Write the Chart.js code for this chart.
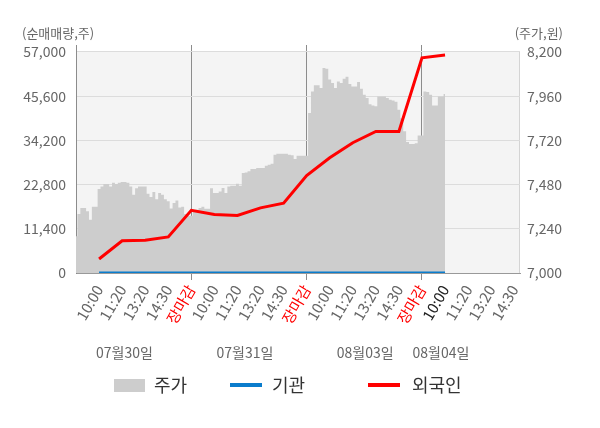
<!DOCTYPE html>
<html>
<head>
<meta charset="utf-8">
<script src="https://cdn.jsdelivr.net/npm/chart.js@4/dist/chart.umd.min.js"></script>
<style>
  html, body { margin: 0; padding: 0; background: #fff; }
</style>
</head>
<body>
<canvas id="chart" width="600" height="428"></canvas>
<script>
const FONT = "'Noto Sans CJK KR', 'Noto Sans', sans-serif"

const slotLabels = ['10:00', '11:20', '13:20', '14:30', '장마감']
const dayLabels = ['07월30일', '07월31일', '08월03일', '08월04일']
const seriesNames = ['주가', '기관', '외국인']

const volTicks = [0, 11400, 22800, 34200, 45600, 57000]
const priceTicks = [7000, 7240, 7480, 7720, 7960, 8200]

// 주가, sampled 8 times per label slot, 07/30 open .. 08/04 10:00
const price = [
  7200, 7320, 7353, 7353, 7335, 7289, 7360, 7360, 7456, 7470,
  7483, 7483, 7470, 7490, 7483, 7490, 7494, 7494, 7490, 7470,
  7425, 7460, 7470, 7470, 7470, 7430, 7413, 7440, 7400, 7435,
  7425, 7400, 7390, 7350, 7380, 7394, 7355, 7360, 7320, 7311,
  7311, 7344, 7344, 7353, 7360, 7349, 7349, 7460, 7434, 7434,
  7443, 7461, 7435, 7470, 7474, 7474, 7485, 7474, 7543, 7546,
  7552, 7565, 7565, 7570, 7570, 7570, 7583, 7588, 7593, 7642,
  7648, 7648, 7648, 7648, 7642, 7640, 7619, 7637, 7637, 7637,
  7637, 7869, 7986, 8020, 8019, 8004, 8113, 8109, 8050, 8032,
  8004, 8040, 8032, 8055, 8065, 8026, 8013, 8013, 8037, 8000,
  7968, 7950, 7916, 7910, 7905, 7959, 7959, 7959, 7950, 7941,
  7936, 7930, 7887, 7840, 7770, 7711, 7700, 7700, 7705, 7746,
  7746, 7985, 7983, 7968, 7910, 7910, 7959, 7959, 7972
]

// cumulative net buying (주), one value per label slot from 07/30 10:00
const institution = [0, 0, 0, 0, 0, 0, 0, 0, 0, 0, 0, 0, 0, 0, 0, 0]
const foreign = [3600, 8300, 8450, 9300, 16150, 15100, 14850, 16800, 18000, 25150, 29700, 33600, 36500, 36500, 55500, 56200]

const STEP = 8
const X_MAX = 154
const slotTicks = []
for (let v = STEP; v <= X_MAX; v += STEP) slotTicks.push(v)

const labelFor = (v) => slotLabels[(v / STEP - 1) % slotLabels.length]
const bySlot = (values) => values.map((y, i) => ({ x: (i + 1) * STEP, y }))

const extras = {
  id: 'extras',
  beforeDraw (chart) {
    const { ctx, scales: { x, y } } = chart
    const top = y.getPixelForValue(volTicks[volTicks.length - 1])
    ctx.save()
    ctx.fillStyle = '#f4f4f4'
    ctx.fillRect(x.left, top, x.right - x.left, y.bottom - top)
    ctx.strokeStyle = '#d4d4d4'
    ctx.lineWidth = 1
    ctx.beginPath()
    ctx.moveTo(x.right - 0.5, top)
    ctx.lineTo(x.right - 0.5, y.bottom)
    ctx.stroke()
    ctx.restore()
  },
  afterDraw (chart) {
    const { ctx, scales: { x } } = chart
    ctx.save()
    ctx.font = '13px ' + FONT
    ctx.fillStyle = '#666'
    ctx.textBaseline = 'middle'
    ctx.textAlign = 'left'
    ctx.fillText('(순매매량,주)', 22, 33)
    ctx.textAlign = 'right'
    ctx.fillText('(주가,원)', 563, 33)

    // day captions under the time labels
    ctx.font = '14px ' + FONT
    ctx.textAlign = 'center'
    const dayAt = [16.8, 58.6, 100.3, 126.6]
    dayLabels.forEach((d, i) => ctx.fillText(d, x.getPixelForValue(dayAt[i]), 353))

    // legend
    const ly = 385
    ctx.font = '18px ' + FONT
    ctx.textAlign = 'left'
    ctx.fillStyle = '#cdcdcd'
    ctx.fillRect(114, ly - 6, 31, 13)
    ctx.fillStyle = '#333'
    ctx.fillText(seriesNames[0], 154, ly)
    ctx.lineWidth = 4
    ctx.strokeStyle = '#0a7ccc'
    ctx.beginPath(); ctx.moveTo(230, ly); ctx.lineTo(262, ly); ctx.stroke()
    ctx.fillText(seriesNames[1], 272, ly)
    ctx.strokeStyle = '#ff0000'
    ctx.beginPath(); ctx.moveTo(368, ly); ctx.lineTo(400, ly); ctx.stroke()
    ctx.fillText(seriesNames[2], 412, ly)
    ctx.restore()
  }
}

const config = {
  type: 'line',
  data: {
    datasets: [
      {
        label: seriesNames[2],
        data: bySlot(foreign),
        yAxisID: 'y',
        borderColor: '#ff0000',
        borderWidth: 3,
        pointRadius: 0,
        fill: false,
        order: 0
      },
      {
        label: seriesNames[1],
        data: bySlot(institution),
        yAxisID: 'y',
        borderColor: '#0a7ccc',
        borderWidth: 3,
        pointRadius: 0,
        fill: false,
        order: 1
      },
      {
        label: seriesNames[0],
        data: price.map((y, i) => ({ x: i, y })),
        yAxisID: 'y1',
        borderWidth: 0,
        borderColor: 'rgba(0,0,0,0)',
        backgroundColor: '#cdcdcd',
        pointRadius: 0,
        stepped: 'middle',
        fill: 'start',
        order: 2
      }
    ]
  },
  options: {
    responsive: false,
    animation: false,
    locale: 'en-US',
    layout: { padding: { top: 45, left: 0, right: 0, bottom: 0 } },
    scales: {
      x: {
        type: 'linear',
        min: 0,
        max: X_MAX,
        z: 1,
        afterBuildTicks: (axis) => { axis.ticks = slotTicks.map((value) => ({ value })) },
        afterFit: (axis) => { axis.height = 155 },
        border: { color: '#999' },
        grid: {
          color: (c) => (c.tick && c.tick.value % (STEP * 5) === 0) ? '#8c8c8c' : 'rgba(0,0,0,0)',
          tickLength: 7
        },
        ticks: {
          autoSkip: false,
          minRotation: 60,
          maxRotation: 60,
          padding: 2,
          font: { family: FONT, size: 15 },
          color: (c) => {
            const v = c.tick.value
            if (labelFor(v) === '장마감') return '#ff0000'
            if (v === 128) return '#222'
            return '#666'
          },
          callback: (v) => labelFor(v)
        }
      },
      y: {
        position: 'left',
        min: 0,
        max: 58805,
        z: 1,
        afterBuildTicks: (axis) => { axis.ticks = volTicks.map((value) => ({ value })) },
        afterFit: (axis) => { axis.width = 76 },
        border: { color: '#8c8c8c' },
        grid: { color: '#dcdcdc', tickLength: 0 },
        ticks: {
          padding: 10,
          font: { family: FONT, size: 14 },
          color: '#666'
        }
      },
      y1: {
        position: 'right',
        min: 7000,
        max: 8238,
        afterBuildTicks: (axis) => { axis.ticks = priceTicks.map((value) => ({ value })) },
        afterFit: (axis) => { axis.width = 80 },
        border: { display: false },
        grid: { display: false, drawTicks: false },
        ticks: {
          padding: 7,
          font: { family: FONT, size: 14 },
          color: '#666'
        }
      }
    },
    plugins: {
      legend: { display: false },
      tooltip: { enabled: false }
    }
  },
  plugins: [extras]
}

new Chart(document.getElementById('chart').getContext('2d'), config) // eslint-disable-line
</script>
</body>
</html>
